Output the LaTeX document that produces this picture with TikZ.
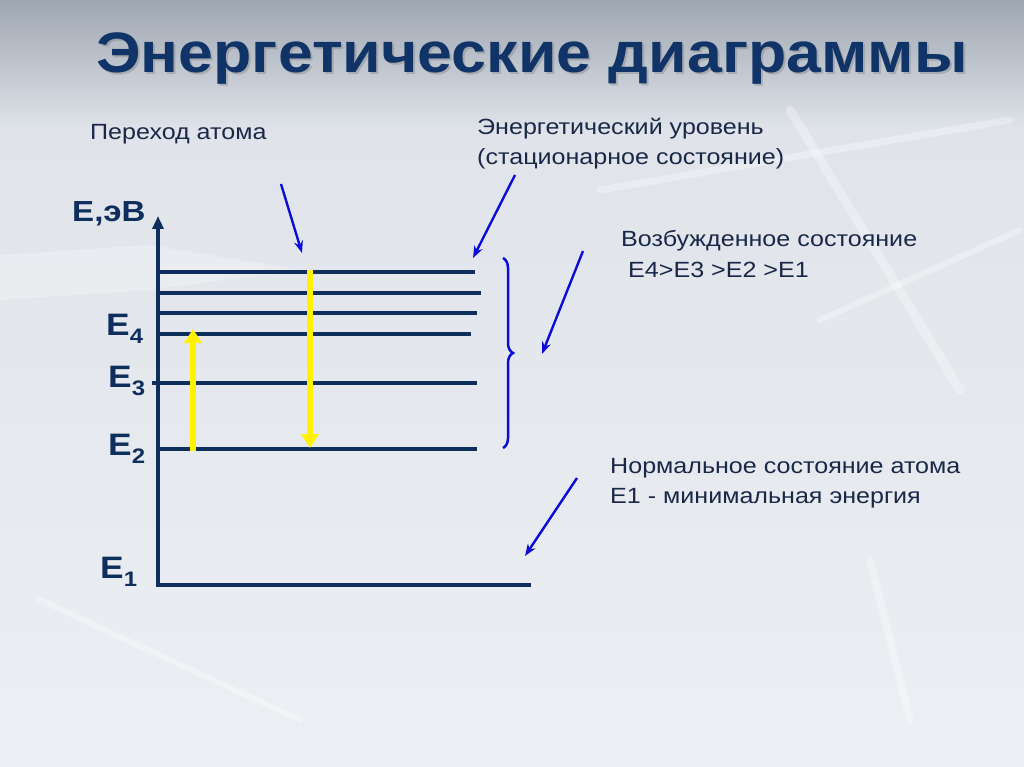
\documentclass[tikz,border=0pt]{standalone}
\usepackage{fontspec}
\setmainfont{Liberation Sans}[FakeStretch=1.14]
\newfontfamily\titlefont{Liberation Sans}[FakeStretch=1.1]
\usetikzlibrary{arrows.meta, decorations.pathreplacing}
\definecolor{navy}{RGB}{14,46,92}
\definecolor{titlenavy}{RGB}{16,52,104}
\definecolor{txtnavy}{RGB}{26,40,72}
\definecolor{ptr}{RGB}{12,12,215}
\definecolor{bgtop}{RGB}{158,166,177}
\definecolor{bgmid}{RGB}{224,228,234}
\definecolor{bgbot}{RGB}{236,239,243}
\newcommand{\elev}[1]{E\raisebox{-8pt}{\fontsize{21}{24}\selectfont #1}}

\begin{document}
\begin{tikzpicture}[x=1pt,y=-1pt,
	level/.style={navy,line width=4pt},
	jump/.style={yellow,line width=6pt,-{Triangle[width=17pt,length=14pt]}},
	pointer/.style={ptr,line width=2.4pt,-{Stealth[length=12pt,width=9pt]}},
	streak/.style={white,opacity=0.3,line cap=round},
	lbl/.style={anchor=base west,inner sep=0pt,text=txtnavy,font=\fontsize{22}{26}\selectfont},
	elbl/.style={anchor=base west,inner sep=0pt,text=navy,font=\bfseries\fontsize{31}{34}\selectfont}]
		% background
		\useasboundingbox (0,0) rectangle (1024,767);
		\shade[top color=bgtop, bottom color=bgmid] (0,0) rectangle (1024,130);
		\shade[top color=bgmid, bottom color=bgbot] (0,130) rectangle (1024,767);
		\draw[streak,line width=9pt] (790,110) -- (960,390);
		\draw[streak,line width=7pt] (600,190) -- (1010,120);
		\draw[streak,line width=6pt] (820,320) -- (1020,230);
		\draw[streak,line width=8pt] (870,560) -- (910,720);
		\draw[streak,line width=6pt] (40,600) -- (300,720);
		\fill[white,opacity=0.25] (0,255) -- (150,245) -- (300,270) -- (150,290) -- (0,300) -- cycle;
		% title
		\node[font=\titlefont\bfseries\fontsize{57}{62}\selectfont, text=gray, opacity=0.4] at (534,61) {Энергетические диаграммы};
		\node[font=\titlefont\bfseries\fontsize{57}{62}\selectfont, text=titlenavy] (title) at (532,59) {Энергетические диаграммы};
		% axis and levels
		\draw[navy,line width=4pt,-{Triangle[width=11pt,length=13pt]}] (158,587) -- (158,216);
		\foreach \y/\xa/\xb in {272/158/475, 293/158/481, 313/158/477, 334/160/471, 383/152/477, 449/158/477}
			\draw[level] (\xa,\y) -- (\xb,\y);
		\draw[level] (156,585) -- (531,585);
		% transitions
		\draw[jump] (193,451) -- (193,329);
		\draw[jump] (310,270) -- (310,448);
		% level labels
		\node[elbl,font=\bfseries\fontsize{29}{32}\selectfont] (eaxis) at (72,222) {E,эВ};
		\node[elbl] (e4) at (106,335) {\elev{4}};
		\node[elbl] (e3) at (108,387) {\elev{3}};
		\node[elbl] (e2) at (108,455) {\elev{2}};
		\node[elbl] (e1) at (100,578) {\elev{1}};
		% texts
		\node[lbl] (trans) at (90,140) {Переход атома};
		\node[lbl] (lev1) at (477,135) {Энергетический уровень};
		\node[lbl] (lev2) at (477,165) {(стационарное состояние)};
		\node[lbl] (exc1) at (621,247) {Возбужденное состояние};
		\node[lbl] (exc2) at (628,277) {E4>E3 >E2 >E1};
		\node[lbl] (norm1) at (610,473) {Нормальное состояние атома};
		\node[lbl] (norm2) at (610,503) {E1 - минимальная энергия};
		% pointers
		\coordinate (p1a) at (281,184);  \coordinate (p1b) at (302,253);
		\coordinate (p2a) at (515,175);  \coordinate (p2b) at (473,258);
		\coordinate (p3a) at (583,251);  \coordinate (p3b) at (542,354);
		\coordinate (p4a) at (577,478);  \coordinate (p4b) at (525,556);
		\draw[pointer] (p1a) -- (p1b);
		\draw[pointer] (p2a) -- (p2b);
		\draw[pointer] (p3a) -- (p3b);
		\draw[pointer] (p4a) -- (p4b);
		\draw[ptr,line width=2.5pt,decorate,decoration={brace,amplitude=10pt}] (503,258) -- (503,448);
	\end{tikzpicture}
\end{document}
